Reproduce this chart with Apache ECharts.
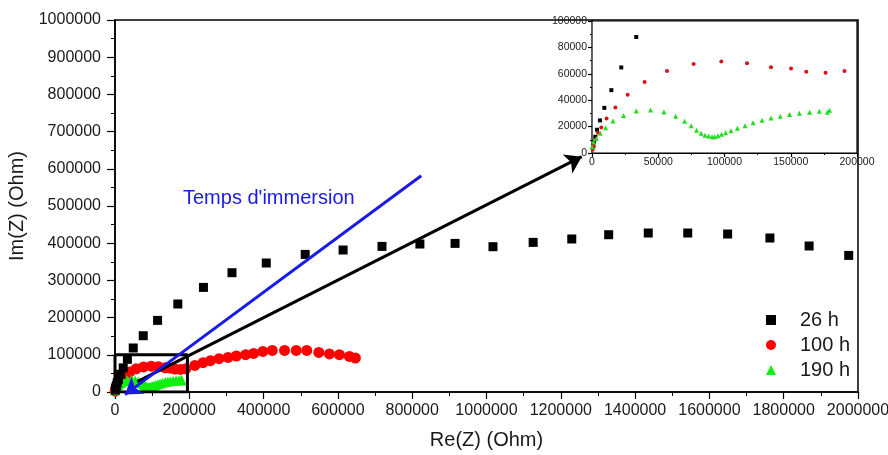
<!DOCTYPE html>
<html>
<head>
<meta charset="utf-8">
<script src="https://cdn.jsdelivr.net/npm/echarts@6/dist/echarts.min.js"></script>
<style>
html,body{margin:0;padding:0;background:#fff;}
#c{width:888px;height:455px;}
</style>
</head>
<body>
<div id="c"></div>
<script>
// ---- data (Re(Z), Im(Z)) in Ohm ----
var names = ['26 h', '100 h', '190 h'];
var xTicksMain = { min: 0, max: 2000000, interval: 200000 };
var yTicksMain = { min: 0, max: 1000000, interval: 100000 };
var xTicksInset = { min: 0, max: 200000, interval: 50000 };
var yTicksInset = { min: 0, max: 100000, interval: 20000 };

var s26 = [[1000,5000],[1500,8500],[2500,12300],[3800,17600],[6000,24700],[9300,34200],[14600,47600],[22100,64800],[33400,87900],[49100,118300],[76000,151300],[114600,192500],[169100,236600],[238100,281200],[314900,320700],[407200,346800],[512000,369900],[614000,381700],[718700,391400],[820700,397800],[915400,399500],[1017400,390600],[1125600,402200],[1229500,411300],[1328900,422800],[1435400,427400],[1541700,427400],[1649100,424700],[1762900,414000],[1868400,392500],[1975000,367200]];

var s100 = [[500,2500],[1200,5500],[2500,10000],[4500,15300],[7000,19400],[11000,26200],[17600,34500],[26900,44100],[39700,53700],[56600,62200],[76700,67500],[97600,69300],[117000,68000],[135100,65000],[150200,64000],[161700,61500],[176300,60800],[190600,62200],[214800,71500],[237000,78800],[256900,84100],[280000,89500],[304200,93000],[326700,96800],[351700,100300],[373200,103800],[398100,109100],[423400,111800],[456400,111800],[487800,111800],[516200,111800],[548500,106500],[577200,102200],[604000,100300],[630900,95700],[647000,91400]];

var s190 = [[0,4800],[1200,8500],[3200,11000],[6300,14900],[10300,19200],[15800,24200],[23800,28500],[33400,31800],[44200,32600],[54300,31100],[63100,27900],[69900,24100],[74900,20600],[78900,17300],[82300,15000],[85300,13500],[88000,12800],[90600,12400],[92600,12400],[95100,13100],[97800,14200],[100800,15400],[104900,16900],[109700,18700],[115500,20600],[121500,22900],[128300,24900],[135100,26600],[142100,27900],[149100,29100],[156500,30100],[164200,30800],[171500,31700],[177600,30800],[179300,32300]];

// ---- annotations (data units) ----
var zoomBox = [[0,0],[195000,0],[195000,100000],[0,100000],[0,0]];
var blackArrow = [[60000,28000],[1256400,632500]];
var blueArrow = [[824200,581400],[27000,-7000]];
var annotationText = "Temps d'immersion";

var FONT = 'Liberation Sans, Arial, sans-serif';
var chart = echarts.init(document.getElementById('c'), null, {renderer:'canvas'});

function plain(v) { return String(v); }

function axisCommon(fs, tickLen, minorLen, margin) {
  return {
    axisLine: { show: true, onZero: false, lineStyle: { color: '#000', width: 1.5 } },
    axisTick: { show: true, inside: false, length: tickLen, lineStyle: { color: '#000', width: 1.2 } },
    minorTick: { show: true, splitNumber: 2, length: minorLen, lineStyle: { color: '#000', width: 1 } },
    axisLabel: { color: '#1a1a1a', fontFamily: FONT, fontSize: fs, margin: margin, formatter: plain, hideOverlap: false, showMinLabel: true, showMaxLabel: true },
    splitLine: { show: false },
    minorSplitLine: { show: false }
  };
}

var xMain = Object.assign({ type: 'value', gridIndex: 0 }, xTicksMain, axisCommon(16, 7, 4, 11), {
  name: 'Re(Z) (Ohm)', nameLocation: 'middle', nameGap: 38,
  nameTextStyle: { fontFamily: FONT, fontSize: 20, color: '#1a1a1a' }
});
var yMain = Object.assign({ type: 'value', gridIndex: 0 }, yTicksMain, axisCommon(16, 8, 4, 14), {
  name: 'Im(Z) (Ohm)', nameLocation: 'middle', nameGap: 81,
  nameTextStyle: { fontFamily: FONT, fontSize: 20, color: '#1a1a1a' }
});
var xInset = Object.assign({ type: 'value', gridIndex: 1 }, xTicksInset, axisCommon(10.5, 4, 2, 4));
var yInset = Object.assign({ type: 'value', gridIndex: 1 }, yTicksInset, axisCommon(10.5, 4, 2, 5));
xInset.axisLine.lineStyle.width = 1.2;
yInset.axisLine.lineStyle.width = 1.2;

var option = {
  animation: false,
  backgroundColor: '#fff',
  grid: [
    { left: 115, right: 30, top: 20, bottom: 63, show: true, borderColor: '#000', borderWidth: 1.5, backgroundColor: 'transparent', containLabel: false, outerBoundsMode: 'none' },
    { left: 592, right: 31, top: 21, bottom: 302, show: true, borderColor: '#000', borderWidth: 1.2, backgroundColor: '#fff', z: 5, containLabel: false, outerBoundsMode: 'none' }
  ],
  xAxis: [xMain, xInset],
  yAxis: [yMain, yInset],
  legend: {
    orient: 'vertical', left: 761, top: 305, itemGap: 5,
    itemWidth: 10, itemHeight: 10,
    data: [
      { name: names[0], icon: 'rect' },
      { name: names[1], icon: 'circle' },
      { name: names[2], icon: 'triangle' }
    ],
    textStyle: { fontFamily: FONT, fontSize: 20, color: '#1a1a1a', padding: [0,0,0,19], lineHeight: 20 }
  },
  graphic: [
    { type: 'text', left: 183, top: 188, style: { text: annotationText, fill: '#1a1ae6', font: '20px ' + FONT } }
  ],
  series: [
    { name: names[0], type: 'scatter', xAxisIndex: 0, yAxisIndex: 0, data: s26, symbol: 'rect', symbolSize: 9, itemStyle: { color: '#000', opacity: 1 }, z: 3 },
    { name: names[1], type: 'scatter', xAxisIndex: 0, yAxisIndex: 0, data: s100, symbol: 'circle', symbolSize: 11, itemStyle: { color: '#ff0000', opacity: 1 }, z: 2 },
    { name: names[2], type: 'scatter', xAxisIndex: 0, yAxisIndex: 0, data: s190, symbol: 'triangle', symbolSize: 10, itemStyle: { color: '#11ee11', opacity: 1 }, z: 2 },
    { name: 'box', type: 'line', xAxisIndex: 0, yAxisIndex: 0, data: zoomBox, symbol: 'none', lineStyle: { color: '#000', width: 3, opacity: 1 }, z: 4, silent: true },
    { name: 'arrows', type: 'lines', coordinateSystem: 'cartesian2d', xAxisIndex: 0, yAxisIndex: 0, clip: false,
      symbol: ['none', 'arrow'], symbolSize: 16, z: 6, silent: true,
      lineStyle: { opacity: 1 },
      data: [
        { coords: blackArrow, lineStyle: { color: '#000', width: 3, opacity: 1 } },
        { coords: blueArrow, lineStyle: { color: '#1a1ae6', width: 3, opacity: 1 } }
      ]
    },
    { name: names[0], type: 'scatter', xAxisIndex: 1, yAxisIndex: 1, data: s26, symbol: 'rect', symbolSize: 4, itemStyle: { color: '#000', opacity: 1 }, z: 7 },
    { name: names[1], type: 'scatter', xAxisIndex: 1, yAxisIndex: 1, data: s100, symbol: 'circle', symbolSize: 4, itemStyle: { color: '#e01010', opacity: 1 }, z: 7 },
    { name: names[2], type: 'scatter', xAxisIndex: 1, yAxisIndex: 1, data: s190, symbol: 'triangle', symbolSize: 5, itemStyle: { color: '#22dd22', opacity: 1 }, z: 7 }
  ]
};
chart.setOption(option);
</script>
</body>
</html>
